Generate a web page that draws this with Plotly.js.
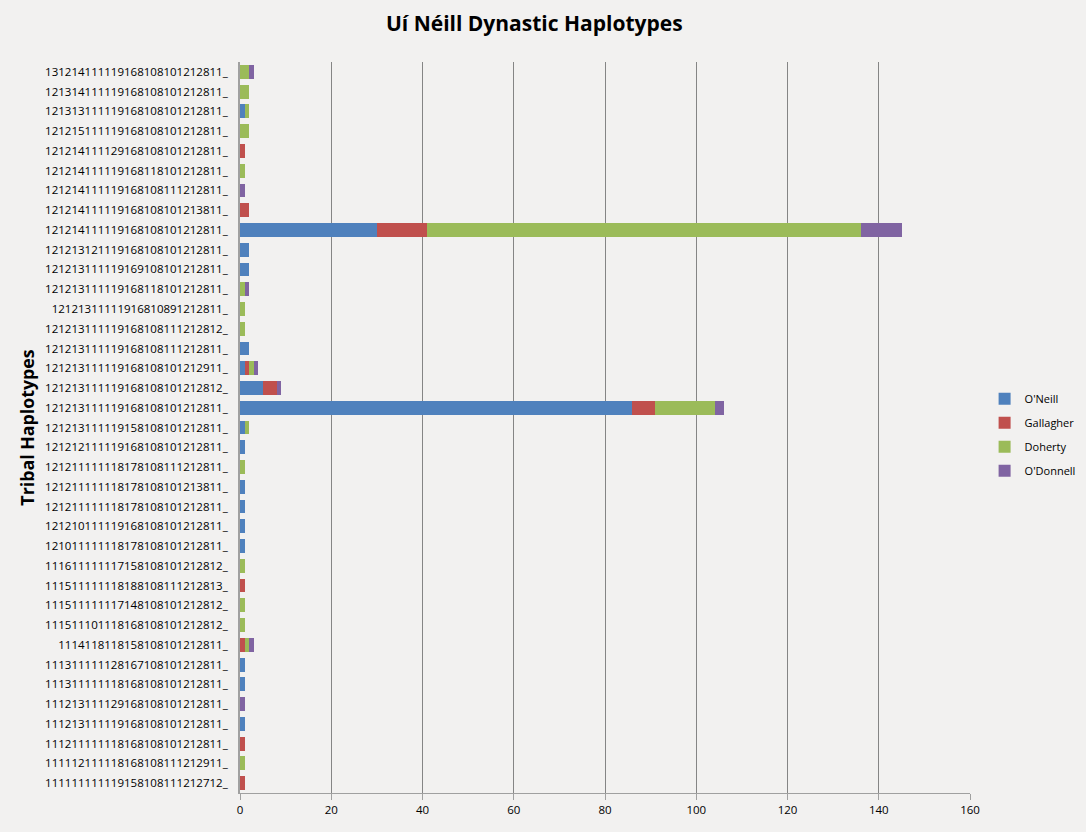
<!DOCTYPE html>
<html>
<head>
<meta charset="utf-8">
<script src="https://cdn.plot.ly/plotly-3.0.1.min.js"></script>
<style>
  body { margin: 0; background: #f2f1f0; }
  #chart { width: 1086px; height: 832px; }
</style>
</head>
<body>
<div id="chart"></div>
<script>
// haplotypes, top to bottom as in the original chart
var haplotypes = [
  "131214111119168108101212811_",
  "121314111119168108101212811_",
  "121313111119168108101212811_",
  "121215111119168108101212811_",
  "121214111129168108101212811_",
  "121214111119168118101212811_",
  "121214111119168108111212811_",
  "121214111119168108101213811_",
  "121214111119168108101212811_",
  "121213121119168108101212811_",
  "121213111119169108101212811_",
  "121213111119168118101212811_",
  "12121311111916810891212811_",
  "121213111119168108111212812_",
  "121213111119168108111212811_",
  "121213111119168108101212911_",
  "121213111119168108101212812_",
  "121213111119168108101212811_",
  "121213111119158108101212811_",
  "121212111119168108101212811_",
  "121211111118178108111212811_",
  "121211111118178108101213811_",
  "121211111118178108101212811_",
  "121210111119168108101212811_",
  "121011111118178108101212811_",
  "111611111117158108101212812_",
  "111511111118188108111212813_",
  "111511111117148108101212812_",
  "111511101118168108101212812_",
  "1114118118158108101212811_",
  "111311111128167108101212811_",
  "111311111118168108101212811_",
  "111213111129168108101212811_",
  "111213111119168108101212811_",
  "111211111118168108101212811_",
  "111112111118168108111212911_",
  "111111111119158108111212712_"
];

var oneill    = [0,0,1,0,0,0,0,0,30,2,2,0,0,0,2,1,5,86,1,1,0,1,1,1,1,0,0,0,0,0,1,1,0,1,0,0,0];
var gallagher = [0,0,0,0,1,0,0,2,11,0,0,0,0,0,0,1,3,5,0,0,0,0,0,0,0,0,1,0,0,1,0,0,0,0,1,0,1];
var doherty   = [2,2,1,2,0,1,0,0,95,0,0,1,1,1,0,1,0,13,1,0,1,0,0,0,0,1,0,1,1,1,0,0,0,0,0,1,0];
var odonnell  = [1,0,0,0,0,0,1,0,9,0,0,1,0,0,0,1,1,2,0,0,0,0,0,0,0,0,0,0,0,1,0,0,1,0,0,0,0];

var names = ["O'Neill", "Gallagher", "Doherty", "O'Donnell"];
var colors = ["#4f81bd", "#c0504d", "#9bbb59", "#8064a2"];
var series = [oneill, gallagher, doherty, odonnell];

var data = [];
for (var i = 0; i < series.length; i++) {
  data.push({
    type: "bar",
    orientation: "h",
    y: haplotypes,
    x: series[i],
    name: names[i],
    legendgroup: "g" + i,
    marker: { color: colors[i], line: { width: 0 } },
    hoverinfo: "name+x"
  });
}

var layout = {
  width: 1086,
  height: 832,
  paper_bgcolor: "#f2f1f0",
  plot_bgcolor: "#f2f1f0",
  barmode: "stack",
  bargap: 0.3,
  font: { family: "Open Sans, sans-serif", size: 11.5, color: "#000" },
  margin: { l: 240, r: 116, t: 62, b: 39, autoexpand: false },
  title: {
    text: "<b>Uí Néill Dynastic Haplotypes</b>",
    font: { family: "Open Sans, sans-serif", size: 21, color: "#000" },
    x: 0.492,
    xanchor: "center",
    y: 0.981
  },
  xaxis: {
    range: [0, 160],
    dtick: 20,
    showgrid: true,
    gridcolor: "#858585",
    gridwidth: 1,
    zeroline: false,
    showline: true,
    linecolor: "#a0a0a0",
    ticks: "outside",
    ticklen: 6,
    tickcolor: "#a0a0a0",
    fixedrange: true
  },
  yaxis: {
    type: "category",
    autorange: "reversed",
    showgrid: false,
    showline: true,
    linecolor: "#a0a0a0",
    linewidth: 2,
    ticks: "",
    ticklabelstandoff: 8,
    title: {
      text: "<b>Tribal Haplotypes</b>",
      font: { family: "Open Sans, sans-serif", size: 17.8, color: "#000" },
      standoff: 6
    },
    fixedrange: true
  },
  showlegend: true,
  legend: {
    x: 1.02,
    y: 0.49,
    yanchor: "middle",
    traceorder: "grouped",
    tracegroupgap: 5,
    bgcolor: "rgba(0,0,0,0)",
    font: { size: 11 },
    itemwidth: 30
  }
};

Plotly.newPlot("chart", data, layout, { displayModeBar: false, staticPlot: true });
</script>
</body>
</html>
